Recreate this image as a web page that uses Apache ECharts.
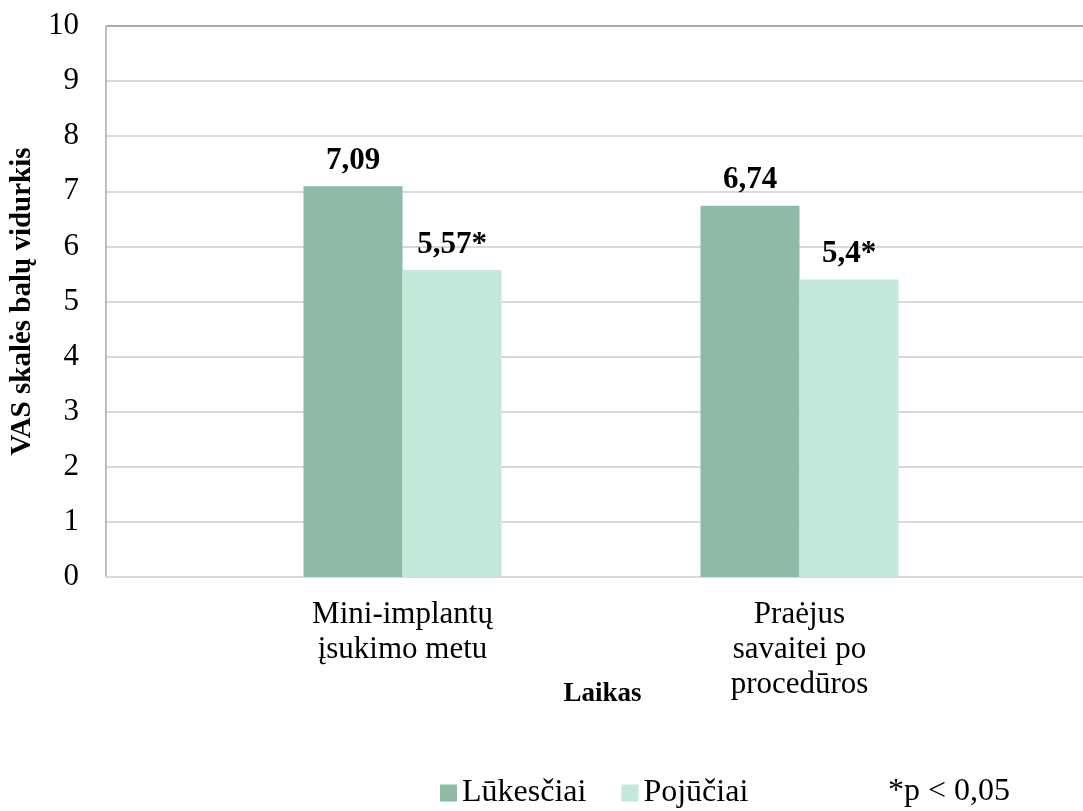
<!DOCTYPE html>
<html>
<head>
<meta charset="utf-8">
<script src="https://cdn.jsdelivr.net/npm/echarts@6/dist/echarts.min.js"></script>
<style>
  html, body { margin: 0; padding: 0; background: #fff; }
  #chart { width: 1083px; height: 811px; }
</style>
</head>
<body>
<div id="chart"></div>
<script>
  // duomenys
  var categories = ['Mini-implantų\nįsukimo metu', 'Praėjus\nsavaitei po\nprocedūros'];
  var seriesNames = ['Lūkesčiai', 'Pojūčiai'];
  var lukesciai = [7.09, 6.74];
  var pojuciai = [5.57, 5.4];
  var pojuciaiMarks = ['*', '*'];
  var yMin = 0, yMax = 10, yStep = 1;

  var serif = "'Times New Roman', 'Liberation Serif', serif";
  var gridColors = [];
  for (var i = 0; i < 10; i++) gridColors.push('#d9d9d9');
  gridColors.push('#ababab');

  function fmt(v) { return String(v).replace('.', ','); }

  var myChart = echarts.init(document.getElementById('chart'));
  myChart.setOption({
    backgroundColor: '#fff',
    animation: false,
    title: {
      text: '*p < 0,05',
      left: 888,
      top: 776,
      padding: 0,
      textStyle: { fontFamily: serif, fontSize: 32, fontWeight: 'normal', color: '#000' }
    },
    legend: {
      data: seriesNames,
      left: 440,
      top: 777,
      padding: 0,
      icon: 'rect',
      itemWidth: 17,
      itemHeight: 17,
      itemGap: 35,
      textStyle: { fontFamily: serif, fontSize: 32, color: '#000' }
    },
    grid: [
      // rėmas su tinkleliu
      { left: 103, right: 0, top: 26, bottom: 234 },
      // stulpeliai
      { left: 204, right: 85, top: 26, bottom: 234 }
    ],
    xAxis: [{
      gridIndex: 0,
      type: 'category',
      data: [''],
      axisLine: { show: true, lineStyle: { color: '#d9d9d9', width: 2 } },
      axisTick: { show: false },
      axisLabel: { show: false },
      name: 'Laikas',
      nameLocation: 'middle',
      nameGap: 104,
      nameTextStyle: { fontFamily: serif, fontSize: 27, fontWeight: 'bold', color: '#000', padding: [0, 0, 0, 16] }
    }, {
      gridIndex: 1,
      type: 'category',
      data: categories,
      axisLine: { show: false },
      axisTick: { show: false },
      axisLabel: {
        margin: 20,
        fontFamily: serif,
        fontSize: 31,
        lineHeight: 35,
        color: '#000',
        align: 'center'
      }
    }],
    yAxis: [{
      gridIndex: 0,
      type: 'value',
      min: yMin,
      max: yMax,
      interval: yStep,
      axisLine: { show: true, lineStyle: { color: '#bfbfbf', width: 2 } },
      axisTick: { show: false },
      axisLabel: { margin: 27, fontFamily: serif, fontSize: 31, color: '#000' },
      splitLine: { show: true, lineStyle: { color: gridColors, width: 2 } },
      name: 'VAS skalės balų vidurkis',
      nameLocation: 'middle',
      nameGap: 60,
      nameTextStyle: { fontFamily: serif, fontSize: 29, fontWeight: 'bold', color: '#000' }
    }, {
      gridIndex: 1,
      type: 'value',
      min: yMin,
      max: yMax,
      interval: yStep,
      show: false
    }],
    series: [{
      name: seriesNames[0],
      type: 'bar',
      xAxisIndex: 1,
      yAxisIndex: 1,
      barWidth: 99,
      barGap: '0%',
      itemStyle: { color: '#8dbba6' },
      label: {
        show: true,
        position: 'top',
        distance: 10,
        fontFamily: serif,
        fontSize: 31,
        fontWeight: 'bold',
        color: '#000',
        formatter: function (p) { return fmt(p.value); }
      },
      data: lukesciai
    }, {
      name: seriesNames[1],
      type: 'bar',
      xAxisIndex: 1,
      yAxisIndex: 1,
      barWidth: 99,
      barGap: '0%',
      itemStyle: { color: '#c4e8da' },
      label: {
        show: true,
        position: 'top',
        distance: 10,
        fontFamily: serif,
        fontSize: 31,
        fontWeight: 'bold',
        color: '#000',
        formatter: function (p) { return fmt(p.value) + pojuciaiMarks[p.dataIndex]; }
      },
      data: pojuciai
    }]
  });
</script>
</body>
</html>
